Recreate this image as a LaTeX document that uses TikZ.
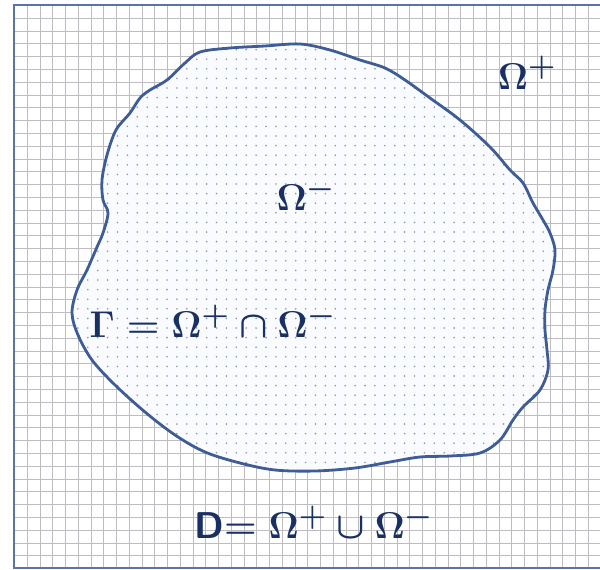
\documentclass[tikz,border=0pt]{standalone}
\usepackage{amsmath}
\usepackage{graphicx}
\definecolor{navy}{RGB}{24,48,100}
\definecolor{outline}{RGB}{62,92,150}
\definecolor{gridc}{RGB}{190,188,192}
\definecolor{dotc}{RGB}{140,150,175}
\definecolor{fillc}{RGB}{250,251,254}
\newcommand{\biglbl}[1]{\scalebox{1.5}{\Huge\boldmath #1}}
\tikzset{
  lbl/.style={text=navy, inner sep=0pt},
  gridline/.style={draw=gridc, line width=1.4pt},
  blobline/.style={draw=outline, line width=2.8pt},
}
\begin{document}
\begin{tikzpicture}[x=1pt,y=-1pt]
\fill[white] (0,0) rectangle (600,570);
\useasboundingbox (0,0) rectangle (600,570);
% grid
\begin{scope}
\clip (14,5) rectangle (600,568);
\foreach \k in {0,...,47} \draw[gridline] ({round(14+12.75*\k)+0.5},5) -- ({round(14+12.75*\k)+0.5},568);
\foreach \k in {0,...,45} \draw[gridline] (14,{round(5+12.8*\k)+0.5}) -- (600,{round(5+12.8*\k)+0.5});
\end{scope}
\draw[draw=outline!85, line width=1.8pt] (600,5) -- (14,5) -- (14,568) -- (600,568);
% blob
\def\blobpath{plot[smooth cycle, tension=0.55] coordinates {
(200,52) (230,48) (265,46) (300,44) (330,50) (360,60) (385,68) (405,80) (430,98) (460,120) (490,147) (510,170) (523,183) (533,203) (543,220) (550,233) (555,250) (553,270) (548,290) (545,310) (545,330) (547,350) (548,370) (540,390) (523,407) (513,420) (500,440) (480,453) (450,456) (420,457) (390,462) (355,468) (315,471) (275,470) (240,463) (205,452) (175,435) (145,412) (115,385) (92,360) (78,335) (72,313) (77,290) (87,270) (97,247) (103,233) (108,213) (103,200) (102,180) (107,155) (116,130) (130,113) (140,98) (150,90) (167,80) (185,63)}}
\fill[fillc] \blobpath;
\begin{scope}
\clip \blobpath;
\foreach \i in {0,...,50} \foreach \j in {0,...,46}
  \fill[dotc] ({68+9.9*\i},{40+9.6*\j}) circle (0.9);
\end{scope}
\draw[blobline] \blobpath;
% labels
\node[lbl] (omplus) at (527,73) {\biglbl{$\Omega^{+}$}};
\node[lbl] (omminus) at (306,194) {\biglbl{$\Omega^{-}$}};
\node[lbl] (gamma) at (213,321) {\biglbl{$\Gamma = \Omega^{+} \cap \Omega^{-}$}};
\node[lbl] (dom) at (314,522) {\biglbl{{\sffamily\bfseries D}$= \Omega^{+} \cup \Omega^{-}$}};
\end{tikzpicture}
\end{document}
